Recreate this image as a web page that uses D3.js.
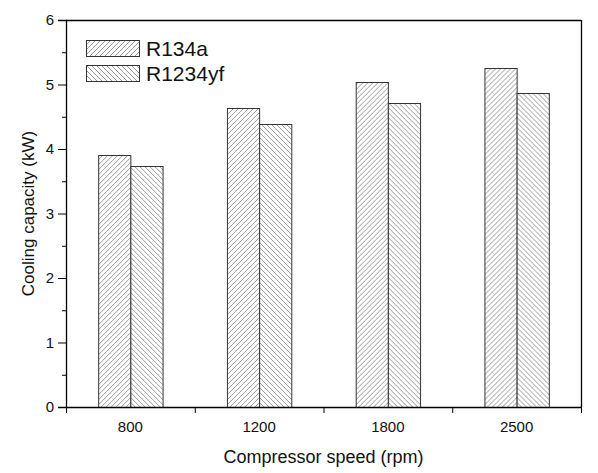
<!DOCTYPE html>
<html>
<head>
<meta charset="utf-8">
<script src="https://cdn.jsdelivr.net/npm/d3@7"></script>
<style>
  body { margin: 0; background: #fff; }
  text { font-family: "Liberation Sans", Arial, sans-serif; fill: #111; }
</style>
</head>
<body>
<script>
var speeds = ["800", "1200", "1800", "2500"];
var series = ["R134a", "R1234yf"];
var r134a = [3.90, 4.63, 5.04, 5.25];
var r1234yf = [3.74, 4.39, 4.71, 4.87];
var yTicks = [0, 1, 2, 3, 4, 5, 6];

var margin = { top: 20, right: 17, bottom: 66, left: 66 },
    width = 598 - margin.left - margin.right,
    height = 473 - margin.top - margin.bottom;

var svg = d3.select("body").append("svg")
    .attr("width", 598)
    .attr("height", 473);

// hatch patterns
var defs = svg.append("defs");
var hatch = [
    { id: "hatchA", d: "M0,5 L5,0 M-1,1 L1,-1 M4,6 L6,4" },
    { id: "hatchB", d: "M0,0 L5,5 M-1,4 L1,6 M4,-1 L6,1" }
];
hatch.forEach(function (h) {
    var p = defs.append("pattern")
        .attr("id", h.id)
        .attr("patternUnits", "userSpaceOnUse")
        .attr("width", 5).attr("height", 5);
    p.append("rect").attr("width", 5).attr("height", 5).attr("fill", "#fff");
    p.append("path").attr("d", h.d)
        .attr("stroke", "#808080").attr("stroke-width", 0.8).attr("fill", "none");
});

var g = svg.append("g").attr("transform", "translate(" + margin.left + "," + margin.top + ")");

var x0 = d3.scaleBand().domain(speeds).range([0, width]).paddingInner(0.5).paddingOuter(0.25);
var x1 = d3.scaleBand().domain(series).range([0, x0.bandwidth()]);
var y = d3.scaleLinear().domain([0, 6]).range([height, 0]);

var data = speeds.map(function (s, i) {
    return { speed: s, vals: [{ key: "R134a", v: r134a[i] }, { key: "R1234yf", v: r1234yf[i] }] };
});

var groups = g.selectAll("g.grp")
    .data(data)
    .enter().append("g")
    .attr("class", "grp")
    .attr("transform", function (d) { return "translate(" + x0(d.speed) + ",0)"; });

groups.selectAll("rect")
    .data(function (d) { return d.vals; })
    .enter().append("rect")
    .attr("x", function (d) { return x1(d.key) + 0.5; })
    .attr("y", function (d) { return Math.round(y(d.v)) + 0.5; })
    .attr("width", x1.bandwidth())
    .attr("height", function (d) { return height - Math.round(y(d.v)); })
    .attr("fill", function (d) { return d.key === "R134a" ? "url(#hatchA)" : "url(#hatchB)"; })
    .attr("stroke", "#333")
    .attr("stroke-width", 1);

// frame (top, right)
g.append("line").attr("x1", 0).attr("x2", width).attr("y1", 0.5).attr("y2", 0.5)
    .attr("stroke", "#000").attr("stroke-width", 1.3);
g.append("line").attr("x1", width + 0.5).attr("x2", width + 0.5).attr("y1", 0).attr("y2", height)
    .attr("stroke", "#000").attr("stroke-width", 1.3);

// y axis
var yAxis = g.append("g")
    .call(d3.axisLeft(y).tickValues(yTicks).tickSize(8).tickPadding(4).tickFormat(d3.format("d")));
yAxis.append("g").call(function (sel) {
    sel.selectAll("line.minor")
        .data(d3.range(0.5, 6, 1))
        .enter().append("line")
        .attr("x1", -4).attr("x2", 0)
        .attr("y1", function (d) { return y(d) + 0.5; })
        .attr("y2", function (d) { return y(d) + 0.5; })
        .attr("stroke", "#000");
});

// x axis, ticks between categories
var xAxis = g.append("g").attr("transform", "translate(0," + height + ")")
    .call(d3.axisBottom(x0).tickSize(0).tickPadding(14));
var step = x0.step();
xAxis.selectAll("line.sep")
    .data(d3.range(0, speeds.length + 1))
    .enter().append("line")
    .attr("x1", function (d) { return d * step + 0.5; })
    .attr("x2", function (d) { return d * step + 0.5; })
    .attr("y1", 0).attr("y2", 6)
    .attr("stroke", "#000");

[yAxis, xAxis].forEach(function (a) {
    a.select(".domain").attr("stroke", "#000").attr("stroke-width", 1.3);
    a.selectAll("text").style("font-size", "15px").attr("fill", "#111");
});

// axis titles
svg.append("text")
    .attr("x", margin.left + width / 2)
    .attr("y", 463)
    .attr("text-anchor", "middle")
    .style("font-size", "18px")
    .text("Compressor speed (rpm)");

svg.append("text")
    .attr("transform", "translate(34," + (margin.top + height / 2) + ") rotate(-90)")
    .attr("text-anchor", "middle")
    .style("font-size", "17px")
    .text("Cooling capacity (kW)");

// legend
var legend = svg.append("g").attr("transform", "translate(86,40)");
series.forEach(function (s, i) {
    var row = legend.append("g").attr("transform", "translate(0," + (i * 25) + ")");
    row.append("rect")
        .attr("x", 0.5).attr("y", 0.5)
        .attr("width", 53).attr("height", 16)
        .attr("fill", i === 0 ? "url(#hatchA)" : "url(#hatchB)")
        .attr("stroke", "#333");
    row.append("text")
        .attr("x", 60).attr("y", 16)
        .style("font-size", "21px")
        .text(s);
});
</script>
</body>
</html>
